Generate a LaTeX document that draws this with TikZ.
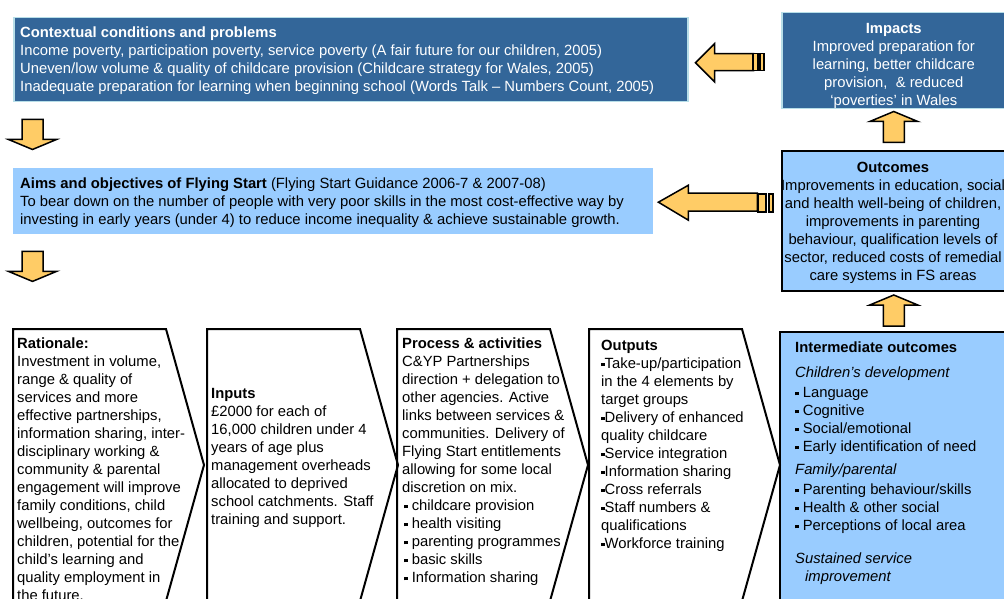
\documentclass[tikz,border=0pt]{standalone}
\usepackage{fontspec}
\setmainfont{Liberation Sans}
\usetikzlibrary{positioning, calc}

\definecolor{fsdark}{RGB}{51,102,153}
\definecolor{fslight}{RGB}{153,204,255}
\definecolor{fsedge}{RGB}{183,222,232}
\definecolor{fsarrow}{RGB}{255,204,102}

\newcommand{\sq}{\rule[2.5pt]{3.5pt}{3.5pt}}

\tikzset{
    fstext/.style={font=\fontsize{14.8}{18}\selectfont, inner sep=0pt, align=left, anchor=north west},
    darkbox/.style={draw=fsedge, fill=fsdark, text=white, line width=1.5pt, anchor=north west},
    stage/.style={draw, line width=2pt, line join=miter},
    blockarrow/.style={draw, fill=fsarrow, line width=1.5pt, line join=miter},
    downblock/.pic={
        \draw[blockarrow] (-10.5,0) -- (10.5,0) -- (10.5,20) -- (24,20) -- (0,30) -- (-24,20) -- (-10.5,20) -- cycle;
    },
    upblock/.pic={
        \draw[blockarrow] (0,0) -- (24,10) -- (10.5,10) -- (10.5,31) -- (-10.5,31) -- (-10.5,10) -- (-24,10) -- cycle;
    },
    stagebox/.pic={
        \draw[stage] (0,0) -- (153,0) -- (191,136) -- (153,272) -- (0,272) -- cycle;
    }
}

\begin{document}
\begin{tikzpicture}[x=1pt, y=-1pt]

\useasboundingbox (0,0) rectangle (1004,599);

\node[darkbox, minimum width=674pt, minimum height=84pt] (context) at (13,17) {};
\node[fstext, text=white] (contexttext) at ($(context.north west)+(7,10)$) {\textbf{Contextual conditions and problems}\\
Income poverty, participation poverty, service poverty (A fair future for our children, 2005)\\
Uneven/low volume \& quality of childcare provision (Childcare strategy for Wales, 2005)\\
Inadequate preparation for learning when beginning school (Words Talk -- Numbers Count, 2005)};

\node[darkbox, minimum width=224pt, minimum height=96pt] (impacts) at (781,12) {};
\node[fstext, text=white, align=center, anchor=north] (impactstext) at ($(impacts.north)+(0,11)$) {\textbf{Impacts}\\
Improved preparation for\\
learning, better childcare\\
provision,\ \ \& reduced\\
‘poverties’ in Wales};

\node[fill=fslight, anchor=north west, minimum width=640pt, minimum height=66pt] (aims) at (13,168) {};
\node[fstext] (aimstext) at ($(aims.north west)+(7,10)$) {\textbf{Aims and objectives of Flying Start} (Flying Start Guidance 2006-7 \& 2007-08)\\
To bear down on the number of people with very poor skills in the most cost-effective way by\\
investing in early years (under 4) to reduce income inequality \& achieve sustainable growth.};

\node[draw, fill=fslight, line width=2pt, anchor=north west, minimum width=229pt, minimum height=140pt] (outcomes) at (781,150) {};
\node[fstext, align=center, anchor=north] (outcomestext) at ($(outcomes.north west)+(112,12)$) {\textbf{Outcomes}\\
Improvements in education, social\\
and health well-being of children,\\
improvements in parenting\\
behaviour, qualification levels of\\
sector, reduced costs of remedial\\
care systems in FS areas};

\node[draw, fill=fslight, line width=2pt, anchor=north west, minimum width=240pt, minimum height=290pt] (intermediate) at (779,331) {};
\node[fstext] (intermediatetext) at ($(intermediate.north west)+(16,11)$) {\textbf{Intermediate outcomes}\\[7pt]
\textit{Children’s development}\\[2pt]
\sq\ Language\\
\sq\ Cognitive\\
\sq\ Social/emotional\\
\sq\ Early identification of need\\[5pt]
\textit{Family/parental}\\[2pt]
\sq\ Parenting behaviour/skills\\
\sq\ Health \& other social\\
\sq\ Perceptions of local area\\[15pt]
\textit{Sustained service}\\
\hspace*{10pt}\textit{improvement}};

\coordinate (rationale) at (13,329);
\coordinate (inputs) at (207,329);
\coordinate (process) at (397,329);
\coordinate (outputs) at (589,329);
\pic at (rationale) {stagebox};
\pic at (inputs) {stagebox};
\pic at (process) {stagebox};
\pic at (outputs) {stagebox};

\node[fstext] (rationaletext) at ($(rationale)+(4,9)$) {\textbf{Rationale:}\\
Investment in volume,\\
range \& quality of\\
services and more\\
effective partnerships,\\
information sharing, inter-\\
disciplinary working \&\\
community \& parental\\
engagement will improve\\
family conditions, child\\
wellbeing, outcomes for\\
children, potential for the\\
child’s learning and\\
quality employment in\\
the future.};

\node[fstext] (inputstext) at ($(inputs)+(4,59)$) {\textbf{Inputs}\\
£2000 for each of\\
16,000 children under 4\\
years of age plus\\
management overheads\\
allocated to deprived\\
school catchments. Staff\\
training and support.};

\node[fstext] (processtext) at ($(process)+(5,9)$) {\textbf{Process \& activities}\\
C\&YP Partnerships\\
direction + delegation to\\
other agencies. Active\\
links between services \&\\
communities. Delivery of\\
Flying Start entitlements\\
allowing for some local\\
discretion on mix.\\
\hspace*{2pt}\sq\ childcare provision\\
\hspace*{2pt}\sq\ health visiting\\
\hspace*{2pt}\sq\ parenting programmes\\
\hspace*{2pt}\sq\ basic skills\\
\hspace*{2pt}\sq\ Information sharing};

\node[fstext] (outputstext) at ($(outputs)+(12,11)$) {\textbf{Outputs}\\
\sq Take-up/participation\\
in the 4 elements by\\
target groups\\
\sq Delivery of enhanced\\
quality childcare\\
\sq Service integration\\
\sq Information sharing\\
\sq Cross referrals\\
\sq Staff numbers \&\\
qualifications\\
\sq Workforce training};

\pic at ($(context.south west)+(19.5,17)$) {downblock};
\pic at ($(aims.south west)+(19.5,17)$) {downblock};
\pic at ($(impacts.south)+(0,2)$) {upblock};
\pic at ($(outcomes.south -| impacts.south)+(0,3)$) {upblock};

\draw[blockarrow] ($(context.east)+(7,3)$) -- ++(19,-19) -- ++(0,10) -- ++(39,0) -- ++(0,17) -- ++(-39,0) -- ++(0,11) -- cycle;
\draw[blockarrow] ($(impacts.west)+(-28,-7)$) rectangle ++(5,17);
\draw[blockarrow] ($(impacts.west)+(-21,-7)$) rectangle ++(4,17);

\draw[blockarrow] ($(aims.east)+(5,1)$) -- ++(30,-17) -- ++(0,8) -- ++(69,0) -- ++(0,18) -- ++(-69,0) -- ++(0,9) -- cycle;
\draw[blockarrow] ($(outcomes.west)+(-23,-27)$) rectangle ++(8,18);
\draw[blockarrow] ($(outcomes.west)+(-12,-27)$) rectangle ++(4,18);

\end{tikzpicture}
\end{document}
